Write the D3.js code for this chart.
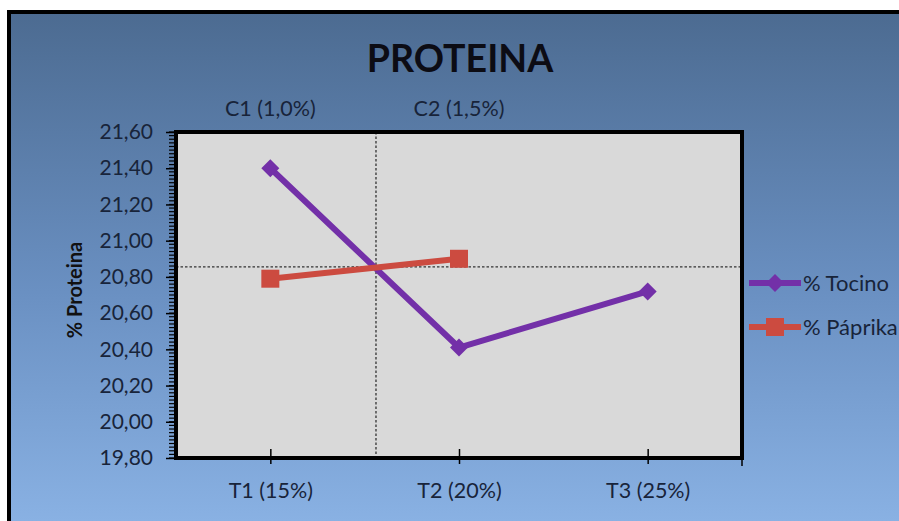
<!DOCTYPE html>
<html>
<head>
<meta charset="utf-8">
<script src="https://cdn.jsdelivr.net/npm/d3@7"></script>
<style>
  html, body { margin: 0; padding: 0; background: #fff; }
  svg { display: block; }
  text { font-family: Lato, "Open Sans", sans-serif; }
</style>
</head>
<body>
<svg id="chart" width="899" height="521"></svg>
<script>
// Treatments on the x axis and the two series measured on them
const categories = ["T1 (15%)", "T2 (20%)", "T3 (25%)"];
const tocino = [21.40, 20.41, 20.72];
const paprika = [20.79, 20.90];
const seriesNames = ["% Tocino", "% Páprika"];
const topLabels = ["C1 (1,0%)", "C2 (1,5%)"];
const yTicks = [19.8, 20.0, 20.2, 20.4, 20.6, 20.8, 21.0, 21.2, 21.4, 21.6];
// crossing point of the two series: [category position, % proteina]
const crossPoint = [1.56, 20.855];

const svg = d3.select("#chart");
const W = 899, H = 521;
const plot = { left: 176, right: 742, top: 132, bottom: 458 };

const purple = "#7330a8";
const red = "#cc4b40";
const ink = "#18243a";

// Background with gradient and frame
const defs = svg.append("defs");
const grad = defs.append("linearGradient").attr("id", "bg").attr("x1", 0).attr("y1", 0).attr("x2", 0).attr("y2", 1);
grad.append("stop").attr("offset", "0%").attr("stop-color", "#4c6b91");
grad.append("stop").attr("offset", "55%").attr("stop-color", "#6a90c2");
grad.append("stop").attr("offset", "100%").attr("stop-color", "#89b1e3");

svg.append("rect").attr("x", 9).attr("y", 12).attr("width", W - 9).attr("height", H - 12).attr("fill", "url(#bg)");
svg.append("line").attr("x1", 9).attr("x2", W).attr("y1", 12).attr("y2", 12).attr("stroke", "#000").attr("stroke-width", 4);
svg.append("line").attr("x1", 9).attr("x2", 9).attr("y1", 10).attr("y2", H).attr("stroke", "#000").attr("stroke-width", 4);

// Scales
const x = d3.scaleLinear().domain([0.5, 3.5]).range([plot.left, plot.right]);
const y = d3.scaleLinear().domain([19.8, 21.6]).range([plot.bottom, plot.top]);

// Plot area
svg.append("rect")
  .attr("x", plot.left).attr("y", plot.top)
  .attr("width", plot.right - plot.left).attr("height", plot.bottom - plot.top)
  .attr("fill", "#d9d9d9");

// Crosshair through the crossing point
const g = svg.append("g");
g.append("line")
  .attr("x1", plot.left).attr("x2", plot.right)
  .attr("y1", y(crossPoint[1])).attr("y2", y(crossPoint[1]))
  .attr("stroke", "#333").attr("stroke-width", 1.3).attr("stroke-dasharray", "2.5,2");
g.append("line")
  .attr("x1", x(crossPoint[0])).attr("x2", x(crossPoint[0]))
  .attr("y1", plot.top).attr("y2", plot.bottom)
  .attr("stroke", "#333").attr("stroke-width", 1.3).attr("stroke-dasharray", "2.5,2");

// Y axis: minor ticks every 0.02, major every 0.2
const minor = d3.range(0, 91).map(i => 19.8 + i * 0.02);
svg.append("g").selectAll("line").data(minor).join("line")
  .attr("x1", plot.left - 7).attr("x2", plot.left)
  .attr("y1", d => y(d)).attr("y2", d => y(d))
  .attr("stroke", "#000").attr("stroke-width", 1.2);

const yAxis = d3.axisLeft(y).tickValues(yTicks).tickSize(10).tickPadding(13)
  .tickFormat(d => d3.format(".2f")(d).replace(".", ","));
const ya = svg.append("g").attr("transform", `translate(${plot.left},0)`).call(yAxis);
ya.select(".domain").remove();
ya.selectAll(".tick line").attr("stroke", "#000").attr("stroke-width", 1.5);
ya.selectAll(".tick text").attr("font-size", 21).attr("fill", ink).attr("font-family", "Lato, sans-serif");

// X axis with crossing tick marks
const xAxis = d3.axisBottom(x).tickValues([1, 2, 3]).tickSize(0)
  .tickFormat((d, i) => categories[i]).tickPadding(25);
const xa = svg.append("g").attr("transform", `translate(0,${plot.bottom})`).call(xAxis);
xa.select(".domain").remove();
xa.selectAll(".tick text").attr("font-size", 21.5).attr("fill", ink).attr("font-family", "Lato, sans-serif");
xa.selectAll(".tick").append("line").attr("y1", -9).attr("y2", 6).attr("stroke", "#000").attr("stroke-width", 1.5);
xa.append("line").attr("x1", plot.right).attr("x2", plot.right).attr("y1", 0).attr("y2", 8).attr("stroke", "#000").attr("stroke-width", 1.5);

// Plot border
svg.append("rect")
  .attr("x", plot.left).attr("y", plot.top)
  .attr("width", plot.right - plot.left).attr("height", plot.bottom - plot.top)
  .attr("fill", "none").attr("stroke", "#000").attr("stroke-width", 4);

// Series lines
const line = d3.line().x((d, i) => x(i + 1)).y(d => y(d));
svg.append("path").datum(tocino).attr("d", line)
  .attr("fill", "none").attr("stroke", purple).attr("stroke-width", 6).attr("stroke-linejoin", "round");
svg.append("path").datum(paprika).attr("d", line)
  .attr("fill", "none").attr("stroke", red).attr("stroke-width", 6).attr("stroke-linejoin", "round");

// Markers: square diamond for Tocino, square for Páprika
const diamondPath = "M0,-9L9,0L0,9L-9,0Z";
svg.append("g").selectAll("path").data(tocino).join("path")
  .attr("d", diamondPath)
  .attr("transform", (d, i) => `translate(${x(i + 1)},${y(d)})`)
  .attr("fill", purple);
svg.append("g").selectAll("rect").data(paprika).join("rect")
  .attr("x", (d, i) => x(i + 1) - 9).attr("y", d => y(d) - 9)
  .attr("width", 18).attr("height", 18)
  .attr("fill", red);

// Category labels above the plot
svg.append("g").selectAll("text").data(topLabels).join("text")
  .attr("x", (d, i) => x(i + 1)).attr("y", 116)
  .attr("text-anchor", "middle").attr("font-size", 21.5).attr("fill", ink)
  .text(d => d);

// Title
svg.append("text").attr("x", 460).attr("y", 72)
  .attr("text-anchor", "middle").attr("font-size", 37.5).attr("font-weight", "bold").attr("fill", "#0c0c14")
  .text("PROTEINA");

// Y axis title
svg.append("text")
  .attr("transform", `translate(82,290) rotate(-90)`)
  .attr("text-anchor", "middle").attr("font-size", 20).attr("font-weight", "bold").attr("fill", "#111")
  .text("% Proteina");

// Legend
const legend = svg.append("g");
const legendY = [283, 327];
legend.selectAll("line").data(seriesNames).join("line")
  .attr("x1", 749).attr("x2", 801)
  .attr("y1", (d, i) => legendY[i]).attr("y2", (d, i) => legendY[i])
  .attr("stroke", (d, i) => i ? red : purple).attr("stroke-width", 6);
legend.append("path").attr("d", diamondPath).attr("transform", `translate(775,${legendY[0]})`).attr("fill", purple);
legend.append("rect").attr("x", 766).attr("y", legendY[1] - 9).attr("width", 18).attr("height", 18).attr("fill", red);
legend.selectAll("text").data(seriesNames).join("text")
  .attr("x", 803).attr("y", (d, i) => legendY[i] + 8)
  .attr("font-size", 22).attr("fill", ink)
  .text(d => d);
</script>
</body>
</html>
